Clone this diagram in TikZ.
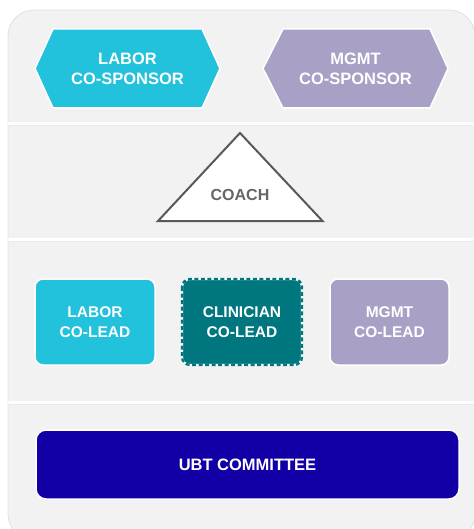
\documentclass[tikz,border=0pt]{standalone}
\usepackage{fontspec}
\setmainfont{Liberation Sans}
\definecolor{panel}{HTML}{F2F2F2}
\definecolor{cyanbox}{HTML}{22C1DC}
\definecolor{lavbox}{HTML}{A8A0C5}
\definecolor{tealbox}{HTML}{00777F}
\definecolor{navybox}{HTML}{1200A6}
\definecolor{tristroke}{HTML}{595959}
\definecolor{tritext}{HTML}{666666}
\tikzset{
  lbl/.style={text=white, font=\bfseries\fontsize{16.5}{20}\selectfont, align=center},
  leadlbl/.style={text=white, font=\bfseries\fontsize{15.5}{20}\selectfont, align=center},
  sep/.style={draw=white, line width=2.5pt},
  outl/.style={draw=white, line width=1.5pt},
}
\begin{document}
\begin{tikzpicture}[x=1pt,y=-1pt]
\useasboundingbox (0,0) rectangle (473,529);
% panel
\fill[panel, draw=black!12, line width=0.8pt, rounded corners=26pt] (8,10) rectangle (475,540);
% separators
\draw[draw=black!8, line width=1pt] (8,125.5) -- (473,125.5) (8,241.5) -- (473,241.5) (8,404.5) -- (473,404.5);
\draw[sep] (8,123.5) -- (473,123.5);
\draw[sep] (8,239.5) -- (473,239.5);
\draw[sep] (8,402.5) -- (473,402.5);
% hexagons
\filldraw[fill=cyanbox, outl] (35,68.5) -- (53,29) -- (202,29) -- (220,68.5) -- (202,108) -- (53,108) -- cycle;
\node[lbl] (laborsp) at (127.5,68.5) {LABOR\\CO-SPONSOR};
\filldraw[fill=lavbox, outl] (263,68.5) -- (283,29) -- (430,29) -- (448,68.5) -- (430,108) -- (283,108) -- cycle;
\node[lbl] (mgmtsp) at (355.5,68.5) {MGMT\\CO-SPONSOR};
% coach triangle
\filldraw[fill=white, draw=tristroke, line width=2pt, line join=miter] (240,133) -- (322.5,221) -- (158,221) -- cycle;
\node[text=tritext, font=\bfseries\fontsize{16}{20}\selectfont] (coach) at (240,195) {COACH};
% leads
\filldraw[fill=cyanbox, outl, rounded corners=8pt] (35,279) rectangle (155,365);
\node[leadlbl] (laborlead) at (95,322) {LABOR\\CO-LEAD};
\filldraw[fill=tealbox, draw=white, line width=2.2pt, rounded corners=8pt] (182,279) rectangle (302,365);
\draw[draw=tealbox, line width=2.3pt, dash pattern=on 4pt off 2.5pt, rounded corners=8pt] (182,279) rectangle (302,365);
\node[leadlbl] (cliniclead) at (242,322) {CLINICIAN\\CO-LEAD};
\filldraw[fill=lavbox, outl, rounded corners=8pt] (330,279) rectangle (449,365);
\node[leadlbl] (mgmtlead) at (389.5,322) {MGMT\\CO-LEAD};
% UBT
\filldraw[fill=navybox, outl, rounded corners=10pt] (36,430) rectangle (459,499);
\node[lbl] (ubt) at (247.5,464.5) {UBT COMMITTEE};
\end{tikzpicture}
\end{document}
